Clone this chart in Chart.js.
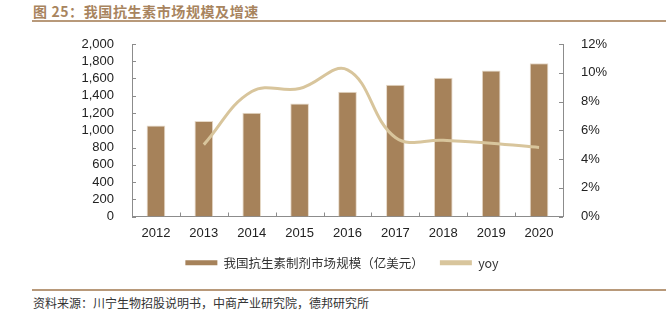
<!DOCTYPE html>
<html lang="zh">
<head>
<meta charset="UTF-8">
<title>我国抗生素市场规模及增速</title>
<script src="https://cdn.jsdelivr.net/npm/chart.js@4/dist/chart.umd.min.js"></script>
<style>
  html, body { margin: 0; padding: 0; background: #fff; }
  #wrap { position: relative; width: 666px; height: 323px; overflow: hidden; font-family: "Noto Sans CJK SC", "Liberation Sans", sans-serif; }
  #title { position: absolute; left: 33px; top: 1px; font-size: 14px; font-weight: bold; color: #a8845e; letter-spacing: 0.6px; }
  #rule1 { position: absolute; left: 32px; right: 0; top: 20px; height: 2px; background: #b8997a; }
  #rule2 { position: absolute; left: 32px; right: 0; top: 289px; height: 2px; background: #b8997a; }
  #source { position: absolute; left: 33px; top: 294px; font-size: 12px; color: #333; }
  #box { position: absolute; left: 0; top: 26px; width: 666px; height: 253px; }
</style>
</head>
<body>
<div id="wrap">
  <div id="title">图 25：我国抗生素市场规模及增速</div>
  <div id="rule1"></div>
  <div id="box"><canvas id="chart"></canvas></div>
  <div id="rule2"></div>
  <div id="source">资料来源：川宁生物招股说明书，中商产业研究院，德邦研究所</div>
</div>
<script>
const years = ['2012', '2013', '2014', '2015', '2016', '2017', '2018', '2019', '2020'];
const marketSize = [1055, 1107, 1204, 1311, 1446, 1527, 1608, 1692, 1776];
const yoy = [null, 5.0, 8.7, 8.9, 10.2, 5.5, 5.3, 5.1, 4.8];
const leftTicks = [0, 200, 400, 600, 800, 1000, 1200, 1400, 1600, 1800, 2000];
const rightTicks = [0, 2, 4, 6, 8, 10, 12];

const axisColor = '#8c8c8c';
const numFont = { family: '"Liberation Sans", Arial, sans-serif', size: 13 };

// short tick marks drawn inside the plot, like the original
const insideTicks = {
  id: 'insideTicks',
  afterLayout(chart) {
    // legend sits a little right of centre in the original
    if (chart.legend) { chart.legend.left += 9; chart.legend.right += 9; }
  },
  afterDraw(chart) {
    const ctx = chart.ctx;
    const s = chart.scales;
    ctx.save();
    ctx.strokeStyle = axisColor;
    ctx.lineWidth = 1;
    ctx.beginPath();
    s.y.ticks.forEach((t, i) => {
      const y = Math.round(s.y.getPixelForTick(i)) + 0.5;
      ctx.moveTo(s.y.right, y); ctx.lineTo(s.y.right + 4, y);
    });
    s.y1.ticks.forEach((t, i) => {
      const y = Math.round(s.y1.getPixelForTick(i)) + 0.5;
      ctx.moveTo(s.y1.left - 4, y); ctx.lineTo(s.y1.left, y);
    });
    for (let i = 1; i < years.length; i++) {
      const x = Math.round((s.x.getPixelForValue(i - 1) + s.x.getPixelForValue(i)) / 2) + 0.5;
      ctx.moveTo(x, s.x.top); ctx.lineTo(x, s.x.top - 4);
    }
    ctx.stroke();
    ctx.restore();
  }
};

new Chart(document.getElementById('chart'), {
  data: {
    labels: years,
    datasets: [
      {
        type: 'line',
        label: 'yoy',
        data: yoy,
        yAxisID: 'y1',
        borderColor: '#d8c59c',
        backgroundColor: '#d8c59c',
        borderWidth: 3,
        pointRadius: 0,
        tension: 0.4,
        order: 0
      },
      {
        type: 'bar',
        label: '我国抗生素制剂市场规模（亿美元）',
        data: marketSize,
        yAxisID: 'y',
        backgroundColor: '#a6825a',
        borderColor: '#e6d9c8',
        borderWidth: 1,
        barPercentage: 0.39,
        categoryPercentage: 1,
        order: 1
      }
    ]
  },
  options: {
    responsive: true,
    maintainAspectRatio: false,
    animation: false,
    layout: { padding: { top: 18, left: 0, right: 0, bottom: 0 } },
    plugins: {
      tooltip: { enabled: false },
      legend: {
        position: 'bottom',
        reverse: true,
        labels: {
          boxWidth: 32,
          boxHeight: 5,
          padding: 10,
          color: '#333',
          font: { family: '"Noto Sans CJK SC", "Liberation Sans", sans-serif', size: 12.5 },
          generateLabels(chart) {
            const items = Chart.defaults.plugins.legend.labels.generateLabels(chart);
            items.forEach(it => {
              it.lineWidth = 0;
              if (it.datasetIndex === 1) it.text = it.text + '\u3000';
            });
            return items;
          }
        }
      }
    },
    scales: {
      x: {
        grid: { display: false },
        border: { color: axisColor },
        ticks: { color: '#222', font: numFont, padding: 1 },
        afterFit(scale) { scale.height = 30; }
      },
      y: {
        position: 'left',
        min: 0, max: 2000,
        afterBuildTicks(scale) { scale.ticks = leftTicks.map(v => ({ value: v })); },
        grid: { display: false },
        border: { color: axisColor },
        ticks: {
          autoSkip: false,
          color: '#222',
          font: numFont,
          padding: 10,
          callback: v => v.toLocaleString('en-US')
        },
        afterFit(scale) { scale.width = 132; }
      },
      y1: {
        position: 'right',
        min: 0, max: 12,
        afterBuildTicks(scale) { scale.ticks = rightTicks.map(v => ({ value: v })); },
        grid: { display: false },
        border: { color: axisColor },
        ticks: {
          autoSkip: false,
          color: '#222',
          font: numFont,
          padding: 10,
          callback: v => v + '%'
        },
        afterFit(scale) { scale.width = 103; }
      }
    }
  },
  plugins: [insideTicks]
});
</script>
</body>
</html>
